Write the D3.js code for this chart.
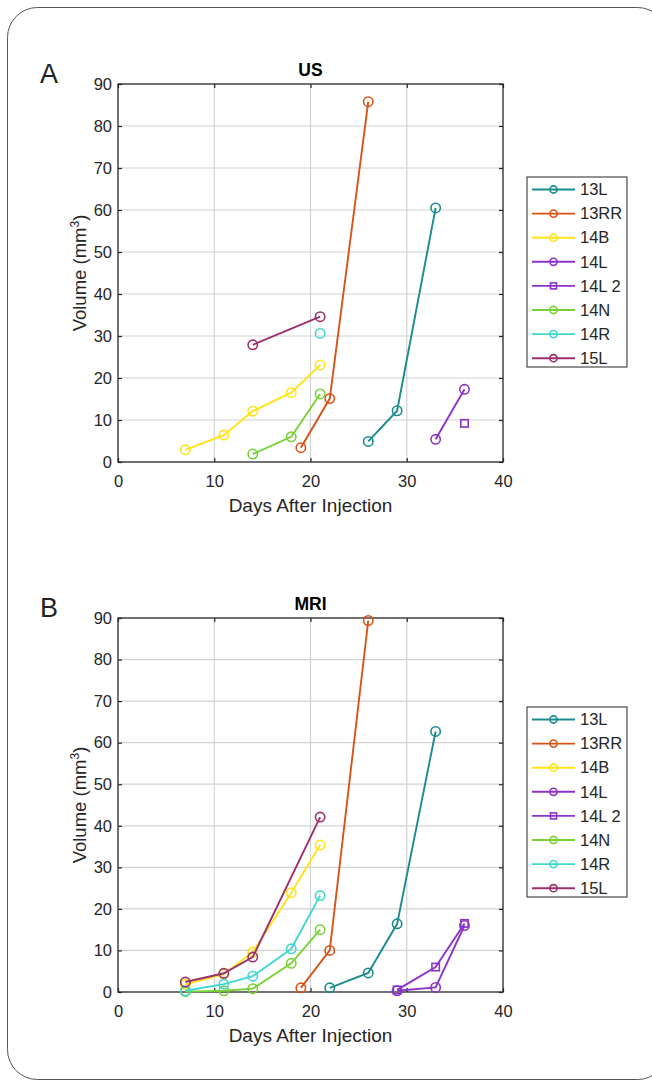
<!DOCTYPE html>
<html>
<head>
<meta charset="utf-8">
<script src="https://cdn.jsdelivr.net/npm/d3@7"></script>
<style>
  body { margin: 0; background: #fff; }
  svg { display: block; font-family: "Liberation Sans", Arial, sans-serif; }
</style>
</head>
<body>
<svg id="fig" width="652" height="1083"></svg>
<script>
// series names + colors (shared by both panels)
const seriesNames = ["13L", "13RR", "14B", "14L", "14L 2", "14N", "14R", "15L"];
const seriesColors = ["#1b8b8e", "#d95319", "#ffe31a", "#8c33c8", "#8c33c8", "#78d234", "#3fd7cf", "#9c306c"];
const seriesMarkers = ["o", "o", "o", "o", "s", "o", "o", "o"];

const xTicks = [0, 10, 20, 30, 40];
const yTicks = [0, 10, 20, 30, 40, 50, 60, 70, 80, 90];

// panel A : ultrasound
const usDays = [
  [26, 29, 33],
  [19, 22, 26],
  [7, 11, 14, 18, 21],
  [33, 36],
  [36],
  [14, 18, 21],
  [21],
  [14, 21]
];
const usVolumes = [
  [4.9, 12.2, 60.5],
  [3.4, 15.1, 85.8],
  [2.9, 6.4, 12.1, 16.5, 23.1],
  [5.4, 17.3],
  [9.2],
  [1.9, 6.0, 16.2],
  [30.6],
  [27.9, 34.6]
];

// panel B : MRI
const mriDays = [
  [22, 26, 29, 33],
  [19, 22, 26],
  [7, 11, 14, 18, 21],
  [29, 33, 36],
  [29, 33, 36],
  [7, 11, 14, 18, 21],
  [7, 11, 14, 18, 21],
  [7, 11, 14, 21]
];
const mriVolumes = [
  [1.0, 4.6, 16.4, 62.7],
  [1.0, 10.0, 89.4],
  [1.8, 4.3, 9.6, 23.9, 35.4],
  [0.3, 1.1, 16.0],
  [0.5, 6.0, 16.5],
  [0.1, 0.3, 0.8, 6.9, 15.0],
  [0.3, 1.9, 3.8, 10.4, 23.2],
  [2.4, 4.5, 8.4, 42.1]
];

const svg = d3.select("#fig");
const axisColor = "#262626";

// rounded frame around the whole figure
svg.append("rect")
  .attr("x", 7.5).attr("y", 7.5)
  .attr("width", 660).attr("height", 1072)
  .attr("rx", 30)
  .attr("fill", "none")
  .attr("stroke", "#555")
  .attr("stroke-width", 1);

function drawMarker(g, shape, color, size) {
  if (shape === "s") {
    g.append("rect")
      .attr("x", -size).attr("y", -size)
      .attr("width", size * 2).attr("height", size * 2)
      .attr("fill", "none")
      .attr("stroke", color)
      .attr("stroke-width", 1.6);
  } else {
    g.append("circle")
      .attr("r", size)
      .attr("fill", "none")
      .attr("stroke", color)
      .attr("stroke-width", 1.6);
  }
}

function panel(opts) {
  const { top, bottom, letter, title, days, volumes } = opts;
  const left = 118, right = 503;

  const x = d3.scaleLinear().domain([0, 40]).range([left, right]);
  const y = d3.scaleLinear().domain([0, 90]).range([bottom, top]);

  const g = svg.append("g");

  // grid
  g.append("g").selectAll("line.vg")
    .data(xTicks.slice(1, -1))
    .join("line")
    .attr("x1", d => x(d)).attr("x2", d => x(d))
    .attr("y1", top).attr("y2", bottom)
    .attr("stroke", "#d2d2d2").attr("stroke-width", 1.2);
  g.append("g").selectAll("line.hg")
    .data(yTicks.slice(1, -1))
    .join("line")
    .attr("x1", left).attr("x2", right)
    .attr("y1", d => y(d)).attr("y2", d => y(d))
    .attr("stroke", "#d2d2d2").attr("stroke-width", 1.2);

  // axes, ticks pointing inwards (box on)
  const styleAxis = sel => {
    sel.select(".domain").remove();
    sel.selectAll(".tick line").attr("stroke", axisColor).attr("stroke-width", 1.2);
    sel.selectAll(".tick text").attr("fill", axisColor).attr("font-size", 16.5);
  };
  g.append("g")
    .attr("transform", `translate(0,${bottom})`)
    .call(d3.axisBottom(x).tickValues(xTicks).tickSize(-4).tickPadding(13))
    .call(styleAxis);
  g.append("g")
    .attr("transform", `translate(0,${top})`)
    .call(d3.axisTop(x).tickValues(xTicks).tickSize(-4).tickFormat(""))
    .call(styleAxis);
  g.append("g")
    .attr("transform", `translate(${left},0)`)
    .call(d3.axisLeft(y).tickValues(yTicks).tickSize(-4).tickPadding(6))
    .call(styleAxis);
  g.append("g")
    .attr("transform", `translate(${right},0)`)
    .call(d3.axisRight(y).tickValues(yTicks).tickSize(-4).tickFormat(""))
    .call(styleAxis);

  g.append("rect")
    .attr("x", left).attr("y", top)
    .attr("width", right - left).attr("height", bottom - top)
    .attr("fill", "none")
    .attr("stroke", axisColor)
    .attr("stroke-width", 1.3);

  // series
  const line = d3.line().x(d => x(d[0])).y(d => y(d[1]));
  seriesNames.forEach((name, i) => {
    const pts = days[i].map((d, j) => [d, volumes[i][j]]);
    if (pts.length > 1) {
      g.append("path")
        .datum(pts)
        .attr("d", line)
        .attr("fill", "none")
        .attr("stroke", seriesColors[i])
        .attr("stroke-width", 1.9);
    }
    pts.forEach(p => {
      const m = g.append("g").attr("transform", `translate(${x(p[0])},${y(p[1])})`);
      drawMarker(m, seriesMarkers[i], seriesColors[i], seriesMarkers[i] === "s" ? 3.7 : 4.7);
    });
  });

  // title + labels
  g.append("text")
    .attr("x", (left + right) / 2).attr("y", top - 8)
    .attr("text-anchor", "middle")
    .attr("font-size", 17.5).attr("font-weight", "bold")
    .attr("fill", "#000")
    .text(title);

  g.append("text")
    .attr("x", 40).attr("y", top - 1)
    .attr("font-size", 27)
    .attr("fill", "#222")
    .text(letter);

  g.append("text")
    .attr("x", (left + right) / 2).attr("y", bottom + 50)
    .attr("text-anchor", "middle")
    .attr("font-size", 19)
    .attr("fill", axisColor)
    .text("Days After Injection");

  const yl = g.append("text")
    .attr("transform", `translate(86,${(top + bottom) / 2}) rotate(-90)`)
    .attr("text-anchor", "middle")
    .attr("font-size", 18.5)
    .attr("fill", axisColor);
  yl.append("tspan").text("Volume (mm");
  yl.append("tspan").attr("dy", -7).attr("font-size", 12).text("3");
  yl.append("tspan").attr("dy", 7).text(")");

  // legend
  const lgTop = opts.legendTop;
  const lg = g.append("g").attr("transform", `translate(527,${lgTop})`);
  lg.append("rect")
    .attr("width", 100).attr("height", 190)
    .attr("fill", "#fff")
    .attr("stroke", axisColor)
    .attr("stroke-width", 1);
  seriesNames.forEach((name, i) => {
    const row = lg.append("g").attr("transform", `translate(0,${12.5 + i * 24.1})`);
    row.append("line")
      .attr("x1", 5).attr("x2", 48)
      .attr("stroke", seriesColors[i]).attr("stroke-width", 1.9);
    const m = row.append("g").attr("transform", "translate(26.5,0)");
    drawMarker(m, seriesMarkers[i], seriesColors[i], seriesMarkers[i] === "s" ? 3 : 3.6);
    row.append("text")
      .attr("x", 53).attr("dy", "0.35em")
      .attr("font-size", 16.5)
      .attr("fill", axisColor)
      .text(name);
  });
}

panel({ top: 84, bottom: 462, letter: "A", title: "US", days: usDays, volumes: usVolumes, legendTop: 177 });
panel({ top: 618, bottom: 992, letter: "B", title: "MRI", days: mriDays, volumes: mriVolumes, legendTop: 707 });
</script>
</body>
</html>
